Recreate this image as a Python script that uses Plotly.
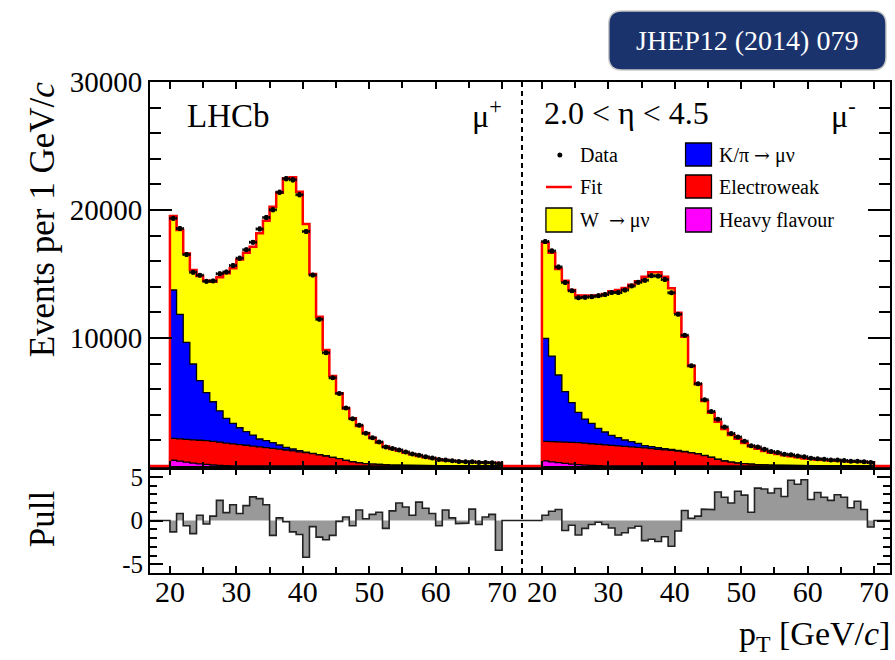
import numpy as np
import plotly.graph_objects as go

# ---------------- data (1 GeV/c bins, lower edges 20..69) ----------------
bin_lo = list(range(20, 70))
OFFSET = 56          # mu- half is drawn shifted on the combined axis
XMIN, XMAX = 17.0, 128.4

# mu+
W_plus = [5780, 6590, 6950, 7340, 8170, 8750, 9380, 10430, 11330, 12110,
          13150, 13990, 14710, 16070, 17190, 18440, 19710, 21010, 21220, 20230,
          17810, 14010, 10780, 8260, 6350, 5100, 4050, 3390, 2870, 2360,
          2030, 1710, 1420, 1250, 1130, 990, 870, 750, 655, 580,
          505, 438, 390, 352, 323, 304, 280, 261, 246, 232]
Kpi_plus = [11590, 9730, 7580, 5930, 4660, 3750, 3100, 2450, 1930, 1600,
            1320, 1060, 860, 610, 540, 440, 320, 210, 150, 90,
            50, 30, 20, 15, 10, 8, 6, 5, 4, 3,
            3, 2, 2, 1, 1, 1, 1, 1, 1, 1,
            1, 1, 1, 1, 1, 1, 1, 1, 1, 1]
EW_plus = [1710, 1740, 1780, 1810, 1840, 1860, 1840, 1810, 1760, 1715,
           1662, 1615, 1557, 1498, 1439, 1380, 1320, 1250, 1180, 1110,
           1040, 960, 870, 780, 670, 570, 440, 330, 250, 190,
           150, 120, 95, 75, 60, 48, 38, 30, 24, 19,
           15, 12, 10, 8, 7, 6, 5, 4, 4, 3]
HF_plus = [450, 380, 300, 230, 170, 120, 80, 50, 30, 15,
           8, 5, 3, 2, 1, 0, 0, 0, 0, 0,
           0, 0, 0, 0, 0, 0, 0, 0, 0, 0,
           0, 0, 0, 0, 0, 0, 0, 0, 0, 0,
           0, 0, 0, 0, 0, 0, 0, 0, 0, 0]
Data_plus = [19350, 18550, 16530, 15130, 14910, 14430, 14460, 15020, 15160, 15660,
             16240, 16890, 17480, 18520, 19420, 20020, 21390, 22450, 22355, 21200,
             18325, 14915, 11465, 8850, 6890, 5670, 4525, 3685, 3185, 2560,
             2210, 1870, 1485, 1370, 1260, 1090, 928, 839, 717, 620,
             506, 475, 406, 353, 325, 333, 277, 272, 261, 183]
Pull_plus = [-1.3, 0.8, -0.6, -1.5, 0.6, -0.4, 0.5, 2.3, 0.9, 1.8,
             0.8, 1.7, 2.7, 2.5, 1.8, -1.7, 0.3, -0.15, -1.3, -1.6,
             -4.2, -0.7, -1.9, -2.2, -1.7, -0.1, 0.4, -0.6, 1.2, 0.2,
             0.7, 0.95, -0.9, 1.1, 2.0, 1.55, 0.6, 2.1, 1.4, 0.8,
             -0.6, 1.2, 0.3, -0.35, -0.3, 1.3, -0.45, 0.4, 0.7, -3.4]

# mu-
W_minus = [7480, 8080, 8280, 8670, 8800, 9140, 9610, 9950, 10390, 10790,
           11250, 11540, 11880, 12270, 12660, 13200, 13620, 13700, 13440, 12590,
           10760, 8960, 6760, 5420, 4250, 3480, 2930, 2500, 2120, 1890,
           1620, 1400, 1230, 1090, 970, 880, 800, 720, 650, 575,
           530, 475, 455, 420, 395, 370, 345, 320, 310, 280]
Kpi_minus = [8040, 6680, 5220, 3940, 3100, 2370, 1890, 1590, 1240, 1000,
             790, 640, 500, 410, 320, 180, 150, 120, 90, 70,
             50, 40, 30, 20, 15, 10, 8, 6, 5, 4,
             3, 3, 2, 2, 1, 1, 1, 1, 1, 1,
             1, 1, 1, 1, 1, 1, 1, 1, 1, 1]
EW_minus = [1530, 1580, 1630, 1670, 1695, 1715, 1710, 1695, 1672, 1640,
            1602, 1565, 1527, 1488, 1449, 1410, 1360, 1310, 1265, 1220,
            1170, 1100, 1020, 940, 810, 680, 520, 390, 300, 230,
            180, 140, 110, 88, 70, 56, 45, 36, 29, 23,
            18, 15, 12, 10, 8, 7, 6, 5, 4, 4]
HF_minus = [400, 330, 260, 200, 150, 105, 70, 45, 28, 15,
            8, 5, 3, 2, 1, 0, 0, 0, 0, 0,
            0, 0, 0, 0, 0, 0, 0, 0, 0, 0,
            0, 0, 0, 0, 0, 0, 0, 0, 0, 0,
            0, 0, 0, 0, 0, 0, 0, 0, 0, 0]
Data_minus = [17530, 16805, 15545, 14340, 13685, 13140, 13175, 13230, 13305, 13390,
              13550, 13555, 13745, 14070, 14350, 14510, 14865, 14835, 14565, 13530,
              11850, 10215, 7830, 6420, 5170, 4250, 3650, 3045, 2530, 2275,
              1925, 1585, 1475, 1305, 1140, 1050, 925, 880, 790, 715,
              605, 560, 528, 478, 464, 429, 379, 365, 337, 272]
Pull_minus = [0.6, 1.05, 1.25, -1.15, -0.55, -1.65, -0.9, -0.45, -0.2, -0.45,
              -0.85, -1.65, -1.4, -0.85, -0.65, -2.3, -2.15, -2.4, -1.85, -2.95,
              -1.2, 1.15, 0.25, 0.5, 1.3, 1.25, 3.25, 2.65, 2.0, 3.35,
              2.9, 0.95, 3.7, 3.6, 3.15, 3.65, 2.75, 4.6, 4.15, 4.65,
              2.4, 3.2, 2.65, 2.3, 2.95, 2.65, 1.45, 2.2, 1.25, -0.75]

tick_major = [20, 30, 40, 50, 60, 70]
tick_minor = [25, 35, 45, 55, 65]
ytick_top = [10000, 20000, 30000]
ytick_pull = [-5, 0, 5]

# ---------------- geometry helpers ----------------
W_FIG, H_FIG = 895, 660
ML, MR, MT, MB = 150, 3, 82, 87
PW, PH = W_FIG - ML - MR, H_FIG - MT - MB
PULL_FRAC = 105 / PH


def pxx(x):
    return (x - ML) / PW


def pxy(y):
    return (H_FIG - MB - y) / PH


def step_poly(edges, vals):
    edges = np.asarray(edges, float)
    vals = np.asarray(vals, float)
    xs = np.repeat(edges, 2)[1:-1]
    ys = np.repeat(vals, 2)
    return (np.concatenate([[edges[0]], xs, [edges[-1]]]),
            np.concatenate([[0.0], ys, [0.0]]))


FONT = "Liberation Serif, Times New Roman, serif"
fig = go.Figure()

halves = [
    (0, W_plus, Kpi_plus, EW_plus, HF_plus, Data_plus, Pull_plus),
    (OFFSET, W_minus, Kpi_minus, EW_minus, HF_minus, Data_minus, Pull_minus),
]

fit_x, fit_y = [XMIN], [0.0]
pull_x, pull_y = [XMIN], [0.0]
for off, w, k, e, h, d, p in halves:
    edges = np.arange(20, 71) + off
    hf = np.array(h, float)
    ew_c = hf + np.array(e, float)
    k_c = ew_c + np.array(k, float)
    tot = k_c + np.array(w, float)
    for cum, col in [(tot, "#ffff00"), (k_c, "#0000ff"), (ew_c, "#ff0000"), (hf, "#ff00ff")]:
        x, y = step_poly(edges, cum)
        fig.add_trace(go.Scatter(x=x, y=y, xaxis="x2", yaxis="y2", mode="lines",
                                 fill="toself", fillcolor=col,
                                 line=dict(color="black", width=1.3),
                                 hoverinfo="skip"))
    x, y = step_poly(edges, tot)
    fit_x += list(x)
    fit_y += list(y)
    x, y = step_poly(edges, p)
    fig.add_trace(go.Scatter(x=x, y=y, xaxis="x", yaxis="y", mode="lines",
                             fill="toself", fillcolor="#999999",
                             line=dict(width=0), hoverinfo="skip"))
    pull_x += list(x)
    pull_y += list(y)

fit_x.append(XMAX)
fit_y.append(0.0)
pull_x.append(XMAX)
pull_y.append(0.0)

fig.add_trace(go.Scatter(x=fit_x, y=fit_y, xaxis="x2", yaxis="y2", mode="lines",
                         line=dict(color="#ff0000", width=2.5), hoverinfo="skip"))
fig.add_trace(go.Scatter(x=pull_x, y=pull_y, xaxis="x", yaxis="y", mode="lines",
                         line=dict(color="#222222", width=1.6), hoverinfo="skip"))

for off, w, k, e, h, d, p in halves:
    xc = np.array(bin_lo, float) + 0.5 + off
    fig.add_trace(go.Scatter(
        x=xc, y=d, xaxis="x2", yaxis="y2", mode="markers",
        marker=dict(color="black", size=5),
        error_y=dict(type="data", array=np.sqrt(np.array(d, float)),
                     color="black", thickness=1.3, width=1.5),
        error_x=dict(type="constant", value=0.5, color="black", thickness=1.3, width=1.5),
        hoverinfo="skip"))

major = tick_major + [t + OFFSET for t in tick_major]
minor = tick_minor + [t + OFFSET for t in tick_minor]
labels = [str(t) for t in tick_major] * 2

xcommon = dict(range=[XMIN, XMAX], tickmode="array", tickvals=major,
               ticks="inside", ticklen=7, tickwidth=2, tickcolor="black",
               showline=True, linewidth=2, linecolor="black", mirror="ticks",
               showgrid=False, zeroline=False,
               minor=dict(tickmode="array", tickvals=minor, ticks="inside",
                          ticklen=6, tickwidth=2, tickcolor="black", showgrid=False))

fig.update_layout(
    width=W_FIG, height=H_FIG,
    margin=dict(l=ML, r=MR, t=MT, b=MB, pad=0),
    paper_bgcolor="white", plot_bgcolor="white",
    showlegend=False,
    font=dict(family=FONT, color="black"),
    xaxis=dict(**xcommon, anchor="y", domain=[0, 1], ticktext=labels,
               ticklabelstandoff=-9,
               tickfont=dict(size=30, family=FONT, color="black")),
    xaxis2=dict(**xcommon, anchor="y2", domain=[0, 1], matches="x",
                showticklabels=False),
    yaxis=dict(domain=[0, PULL_FRAC], range=[-6, 6], anchor="x",
               tickmode="array", tickvals=ytick_pull, ticktext=[str(v) for v in ytick_pull],
               ticks="inside", ticklen=13, tickwidth=2, tickcolor="black",
               showline=True, linewidth=2, linecolor="black", mirror="ticks",
               showgrid=False, zeroline=False,
               tickfont=dict(size=25, family=FONT, color="black"),
               minor=dict(tickmode="array", tickvals=[-4, -3, -2, -1, 1, 2, 3, 4],
                          ticks="inside", ticklen=7, tickwidth=2, tickcolor="black")),
    yaxis2=dict(domain=[PULL_FRAC, 1], range=[-156, 30000], anchor="x2",
                tickmode="array", tickvals=ytick_top, ticktext=[str(v) for v in ytick_top],
                ticks="inside", ticklen=22, tickwidth=2, tickcolor="black",
                showline=True, linewidth=2, linecolor="black", mirror="ticks",
                showgrid=False, zeroline=False,
                tickfont=dict(size=29, family=FONT, color="black"),
                minor=dict(tickmode="array",
                           tickvals=[2000, 4000, 6000, 8000, 12000, 14000, 16000, 18000,
                                     22000, 24000, 26000, 28000],
                           ticks="inside", ticklen=11, tickwidth=2, tickcolor="black")),
)

shapes = []
# dashed separator between the two charges
shapes.append(dict(type="line", xref="x", yref="paper", x0=73, x1=73, y0=0, y1=1,
                   line=dict(color="black", width=2, dash="5px,4px")))

# legend boxes
for (y0, y1, col) in [(143, 166, "#0000ff"), (175, 198, "#ff0000"), (208, 232, "#ff00ff")]:
    shapes.append(dict(type="rect", xref="paper", yref="paper",
                       x0=pxx(687), x1=pxx(713), y0=pxy(y1), y1=pxy(y0),
                       fillcolor=col, line=dict(color="black", width=1.3)))
shapes.append(dict(type="rect", xref="paper", yref="paper",
                   x0=pxx(547), x1=pxx(573), y0=pxy(232), y1=pxy(208),
                   fillcolor="#ffff00", line=dict(color="black", width=1.3)))
shapes.append(dict(type="line", xref="paper", yref="paper",
                   x0=pxx(547), x1=pxx(573), y0=pxy(187), y1=pxy(187),
                   line=dict(color="#ff0000", width=2.5)))
shapes.append(dict(type="circle", xref="paper", yref="paper",
                   x0=pxx(558.5), x1=pxx(563.5), y0=pxy(157.5), y1=pxy(152.5),
                   fillcolor="black", line=dict(color="black", width=0)))

# journal badge (rounded rectangle)
bx0, bx1, by0, by1 = pxx(610), pxx(888), pxy(70), pxy(11)
rx, ry = 13 / PW, 13 / PH
path = (f"M {bx0+rx},{by0} L {bx1-rx},{by0} Q {bx1},{by0} {bx1},{by0+ry} "
        f"L {bx1},{by1-ry} Q {bx1},{by1} {bx1-rx},{by1} L {bx0+rx},{by1} "
        f"Q {bx0},{by1} {bx0},{by1-ry} L {bx0},{by0+ry} Q {bx0},{by0} {bx0+rx},{by0} Z")
shapes.append(dict(type="path", xref="paper", yref="paper", path=path,
                   fillcolor="#1b336c", line=dict(color="#c9c9c9", width=1.5)))
fig.update_layout(shapes=shapes)

ann = []


def text(s, x, y, size, xanchor="left", angle=0, color="black"):
    ann.append(dict(text=s, x=pxx(x), y=pxy(y), xref="paper", yref="paper",
                    xanchor=xanchor, yanchor="middle", showarrow=False,
                    textangle=angle, font=dict(size=size, family=FONT, color=color)))


ARROW = '<span style="font-family:DejaVu Serif;font-size:19px">→</span>'
text("LHCb", 185, 116, 33)
text("μ<sup>+</sup>", 471, 114, 32)
text("2.0 &lt; η &lt; 4.5", 543, 113, 32)
text("μ<sup>-</sup>", 831, 114, 32)
text("Data", 579, 155, 20)
text("Fit", 579, 187, 20)
text("W\u00a0\u00a0" + ARROW + " μν", 579, 220, 20)
text("K/π " + ARROW + " μν", 719, 155, 20)
text("Electroweak", 719, 187, 20)
text("Heavy flavour", 719, 220, 20)
text("Events per 1 GeV/<i>c</i>", 42, 219, 35, xanchor="center", angle=-90)
text("Pull", 42, 519, 35, xanchor="center", angle=-90)
text("p<sub>T</sub> [GeV/<i>c</i>]", 894, 636, 34, xanchor="right")
text("JHEP12 (2014) 079", 749, 41, 28, xanchor="center", color="white")
fig.update_layout(annotations=ann)

fig.write_html("out.html")
